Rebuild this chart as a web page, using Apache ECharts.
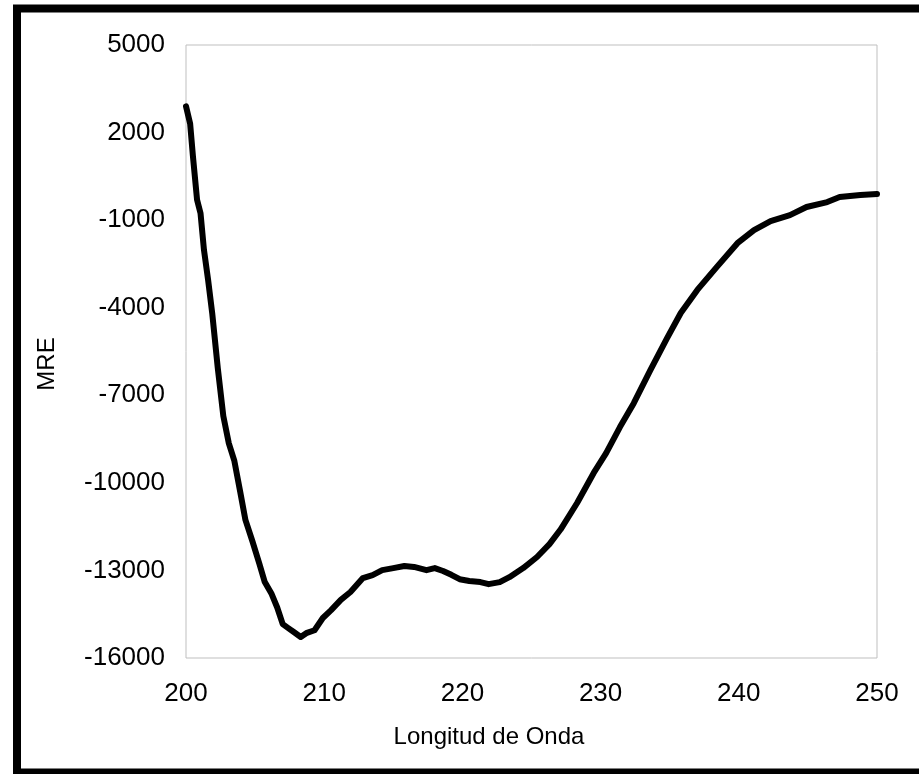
<!DOCTYPE html>
<html>
<head>
<meta charset="utf-8">
<script src="https://cdn.jsdelivr.net/npm/echarts@6/dist/echarts.min.js"></script>
<style>
  html, body { margin: 0; padding: 0; background: #fff; }
  #chart { width: 919px; height: 774px; }
</style>
</head>
<body>
<div id="chart"></div>
<script>
// Wavelength (nm) and mean residue ellipticity of the CD spectrum
const wavelength = [
  200.0, 200.3, 200.5, 200.8, 201.05, 201.3, 201.6, 201.9, 202.3, 202.7,
  203.1, 203.5, 203.9, 204.3, 204.8, 205.3, 205.7, 206.2, 206.6, 207.0,
  207.4, 207.8, 208.3, 208.7, 209.3, 209.9, 210.5, 211.2, 211.9, 212.8,
  213.5, 214.2, 215.0, 215.8, 216.5, 217.4, 218.0, 218.6, 219.2, 219.8,
  220.5, 221.3, 221.9, 222.7, 223.4, 224.4, 225.4, 226.3, 227.1, 228.3,
  229.5, 230.4, 231.4, 232.4, 233.6, 234.8, 235.8, 237.0, 238.4, 239.9,
  241.1, 242.3, 243.7, 244.9, 246.4, 247.3, 248.8, 250.0
];
const mre = [
  2900, 2300, 1200, -300, -760, -2020, -3050, -4200, -6070, -7710,
  -8650, -9250, -10250, -11270, -11990, -12760, -13400, -13810, -14270, -14840,
  -14975, -15110, -15280, -15150, -15050, -14630, -14360, -14010, -13740, -13260,
  -13160, -12990, -12920, -12850, -12880, -12990, -12920, -13020, -13150, -13300,
  -13360, -13400, -13470, -13400, -13230, -12920, -12540, -12100, -11600, -10690,
  -9660, -8980, -8090, -7270, -6140, -5050, -4180, -3390, -2610, -1790,
  -1340, -1030, -830, -550, -380, -210, -140, -105
];
// Labelled y ticks
const yTicks = [5000, 2000, -1000, -4000, -7000, -10000, -13000, -16000];

const font = 'Liberation Sans, Arial, sans-serif';
const chart = echarts.init(document.getElementById('chart'), null, { renderer: 'canvas' });

chart.setOption({
  backgroundColor: '#ffffff',
  animation: false,
  grid: {
    left: 186, top: 45, right: 42, bottom: 116,
    show: true, borderColor: '#bfbfbf', borderWidth: 1, backgroundColor: 'transparent'
  },
  xAxis: {
    type: 'value', min: 200, max: 250, interval: 10,
    axisLine: { show: false }, axisTick: { show: false }, splitLine: { show: false },
    axisLabel: { color: '#000', fontFamily: font, fontSize: 26, margin: 23 }
  },
  yAxis: {
    type: 'value', min: -16000, max: 5000, interval: 1000,
    axisLine: { show: false }, axisTick: { show: false }, splitLine: { show: false },
    axisLabel: {
      color: '#000', fontFamily: font, fontSize: 26, margin: 21,
      formatter: v => (yTicks.indexOf(v) >= 0 ? String(v) : '')
    }
  },
  graphic: [
    {
      type: 'rect', z: 100, silent: true,
      shape: { x: 17, y: 8.5, width: 920, height: 764 },
      style: { fill: 'none', stroke: '#000', lineWidth: 8 }
    },
    {
      type: 'text', x: 47, y: 364, rotation: Math.PI / 2,
      style: { text: 'MRE', font: '24px ' + font, fill: '#000', align: 'center', verticalAlign: 'middle' }
    },
    {
      type: 'text', x: 489, y: 737,
      style: { text: 'Longitud de Onda', font: '24px ' + font, fill: '#000', align: 'center', verticalAlign: 'middle' }
    }
  ],
  series: [{
    type: 'line',
    data: wavelength.map((w, i) => [w, mre[i]]),
    showSymbol: false,
    smooth: false,
    lineStyle: { color: '#000', width: 6, cap: 'round', join: 'round' }
  }]
});
</script>
</body>
</html>
